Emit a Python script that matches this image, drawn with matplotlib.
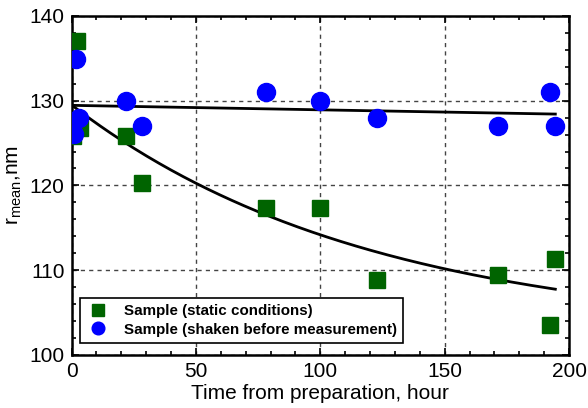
import matplotlib
matplotlib.use('Agg')
import matplotlib.pyplot as plt
from matplotlib.ticker import MultipleLocator
import numpy as np

plt.rcParams['font.family'] = 'Liberation Sans'
plt.rcParams['mathtext.default'] = 'regular'

# ── data ──
static_t = [2.2, 3.4, 0.5, 22.0, 28.5, 78.0, 100.0, 122.7, 171.3, 194.5, 192.4]
static_r = [137.0, 126.8, 125.8, 125.8, 120.3, 117.3, 117.3, 108.9, 109.4, 111.3, 103.5]

shaken_t = [1.8, 3.1, 1.0, 21.9, 28.5, 78.0, 99.9, 122.7, 171.3, 192.4, 194.5]
shaken_r = [134.9, 127.9, 126.1, 130.0, 127.0, 131.0, 130.0, 128.0, 127.0, 131.0, 127.0]

# fit parameters (exponential decay for static, straight line for shaken)
static_fit = {'y0': 102.4, 'A': 27.1, 'tau': 120.0}
shaken_fit = {'b': 129.45, 'k': -0.0053}
fit_end = 194.5

GREEN = '#006400'
BLUE = '#0000ff'

fig = plt.figure(figsize=(5.88, 4.08), dpi=100)
ax = fig.add_axes([0.1216, 0.130, 0.8461, 0.831])

tt = np.linspace(0, fit_end, 200)
ax.plot(tt, static_fit['y0'] + static_fit['A'] * np.exp(-tt / static_fit['tau']),
        color='black', lw=2, zorder=2)
ax.plot(tt, shaken_fit['b'] + shaken_fit['k'] * tt, color='black', lw=2, zorder=2)

ax.plot(static_t, static_r, 's', color=GREEN, ms=11.5, mec=GREEN,
        label='Sample (static conditions)', zorder=3)
ax.plot(shaken_t, shaken_r, 'o', color=BLUE, ms=13, mec=BLUE,
        label='Sample (shaken before measurement)', zorder=4)

ax.set_xlim(0, 200)
ax.set_ylim(100, 140)
ax.xaxis.set_major_locator(MultipleLocator(50))
ax.xaxis.set_minor_locator(MultipleLocator(10))
ax.yaxis.set_major_locator(MultipleLocator(10))
ax.yaxis.set_minor_locator(MultipleLocator(2))
ax.tick_params(which='both', direction='in', top=True, right=True,
               width=1.2, labelsize=15, pad=5)
ax.tick_params(which='major', length=5)
ax.tick_params(which='minor', length=3)
for s in ax.spines.values():
    s.set_linewidth(1.8)

ax.grid(which='major', color='#444444', ls=(0, (3, 3)), lw=1)
ax.set_axisbelow(True)

ax.set_xlabel('Time from preparation, hour', fontsize=15, labelpad=2)
ax.set_ylabel('$r_{mean}$,nm', fontsize=15, labelpad=4)

leg = ax.legend(loc='lower left', bbox_to_anchor=(0.017, 0.036),
                borderaxespad=0, prop={'weight': 'bold', 'size': 10.9},
                markerscale=0.7, fancybox=False, framealpha=1, edgecolor='black',
                handletextpad=0.9, borderpad=0.4, labelspacing=0.3,
                handlelength=1.6)
leg.get_frame().set_linewidth(1.2)

fig.savefig('out.png', dpi=100)
